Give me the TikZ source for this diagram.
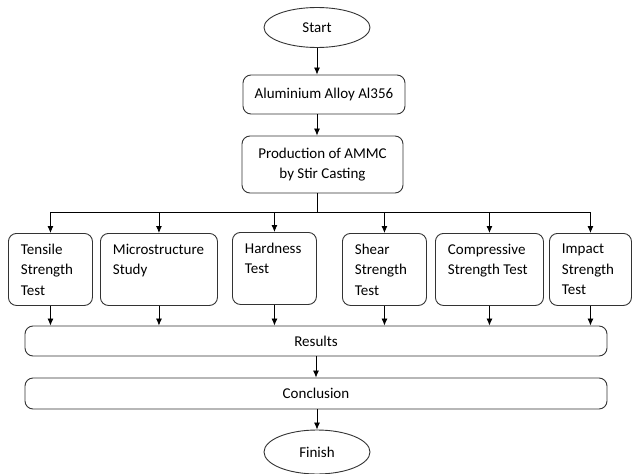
\documentclass[tikz,border=0pt]{standalone}
\usepackage{fontspec}
\setmainfont{Carlito}
\usetikzlibrary{positioning,shapes.geometric,arrows.meta}

\begin{document}
\begin{tikzpicture}[x=1pt, y=-1pt, >={Latex[length=7pt,width=6pt]},
    every node/.style={font=\fontsize{15}{20.5}\selectfont},
    flowbox/.style={draw=black!80, line width=0.9pt, rounded corners=8pt, align=center},
    testbox/.style={flowbox, anchor=north west, align=flush left, text width=#1, inner xsep=12.5pt, minimum height=72pt},
    terminal/.style={ellipse, draw=black!80, line width=0.9pt, minimum width=106pt, minimum height=40pt},
    link/.style={->, line width=0.8pt}]

    \useasboundingbox (0,0) rectangle (632,474);

    % Start
    \node[terminal] (start) at (317,27.5) {Start};

    % Material
    \node[flowbox, minimum width=162pt, minimum height=39pt] (alloy) at (324,94.5) {Aluminium Alloy Al356};

    % Production of the composite
    \node[flowbox, minimum width=161pt, minimum height=57pt] (prod) at (322.5,164.5) {Production of AMMC\\by Stir Casting};

    % Branching point
    \coordinate (split) at (317,212);

    % Tests
    \node[testbox=59pt] (tensile) at (8,233) {Tensile\\Strength\\Test};
    \node[testbox=92pt] (micro) at (100,233) {Microstructure\\Study\\\mbox{}};
    \node[testbox=59pt] (hardness) at (232,232) {Hardness\\Test\\\mbox{}};
    \node[testbox=59pt] (shear) at (342,233) {Shear\\Strength\\Test};
    \node[testbox=83pt] (compress) at (435,233) {Compressive\\Strength Test\\\mbox{}};
    \node[testbox=57pt] (impact) at (549,233) {Impact\\Strength\\Test};

    % Results and conclusion
    \node[flowbox, minimum width=582pt, minimum height=30pt] (results) at (316,341) {Results};
    \node[flowbox, minimum width=582pt, minimum height=31pt] (concl) at (316,393.5) {Conclusion};

    % Finish
    \node[terminal, minimum height=44pt] (finish) at (317,452) {Finish};

    % Arrows along the main line
    \draw[link] (start) -- (start.south |- alloy.north);
    \draw[link] (alloy.south -| start) -- (prod.north -| start);
    \draw[line width=0.8pt] (prod.south -| start) -- (split);
    \draw[line width=0.8pt] (tensile.north |- split) -- (impact.north |- split);

    % Arrows to and from the tests
    \foreach \t in {tensile,micro,hardness,shear,compress,impact} {
        \draw[link] (\t.north |- split) -- (\t.north);
        \draw[link] (\t.south) -- (\t.south |- results.north);
    }

    \draw[link] (results) -- (concl);
    \draw[link] (concl.south -| finish) -- (finish);
\end{tikzpicture}
\end{document}
